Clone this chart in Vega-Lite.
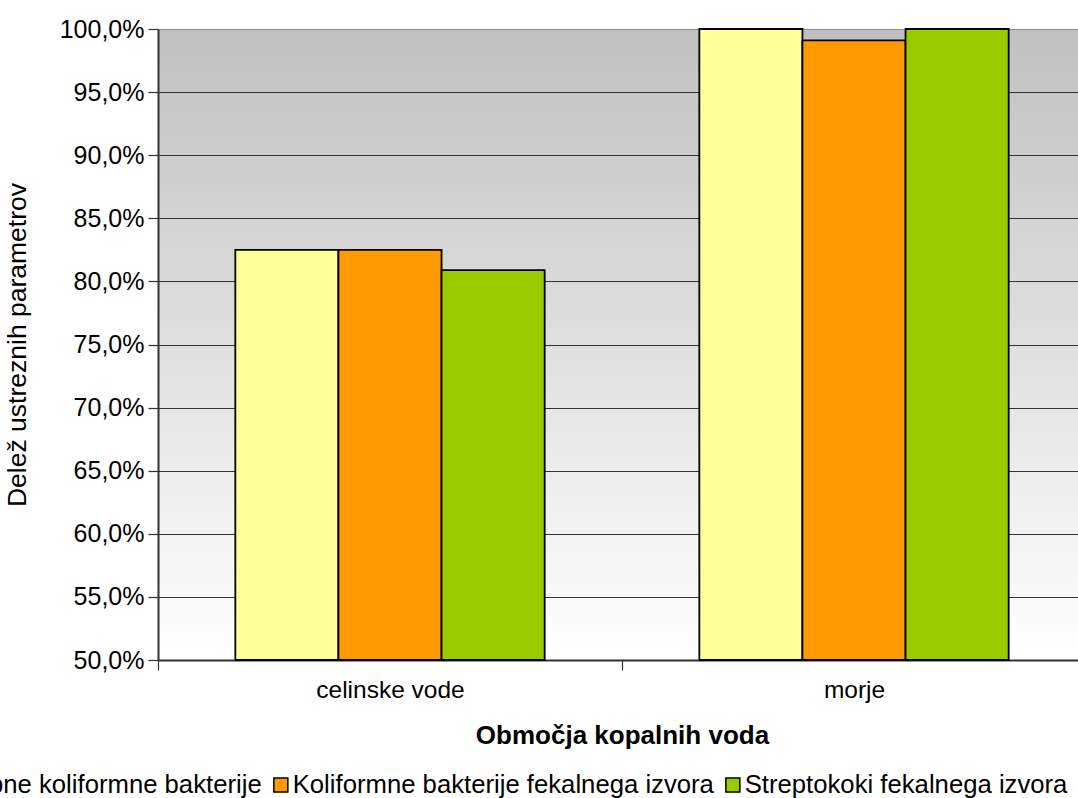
{
  "$schema": "https://vega.github.io/schema/vega-lite/v6.json",
  "width": 920,
  "height": 631,
  "autosize": {"type": "none"},
  "padding": {"left": 158, "top": 29, "right": 0, "bottom": 138},
  "background": "#ffffff",
  "data": {
    "values": [
      {"obmocje": "celinske vode", "parameter": "Skupne koliformne bakterije", "delez": 82.5},
      {"obmocje": "celinske vode", "parameter": "Koliformne bakterije fekalnega izvora", "delez": 82.5},
      {"obmocje": "celinske vode", "parameter": "Streptokoki fekalnega izvora", "delez": 80.9},
      {"obmocje": "morje", "parameter": "Skupne koliformne bakterije", "delez": 100.0},
      {"obmocje": "morje", "parameter": "Koliformne bakterije fekalnega izvora", "delez": 99.1},
      {"obmocje": "morje", "parameter": "Streptokoki fekalnega izvora", "delez": 100.0}
    ]
  },
  "mark": {"type": "bar", "stroke": "#000000", "strokeWidth": 1.8},
  "encoding": {
    "x": {
      "field": "obmocje",
      "type": "nominal",
      "sort": ["celinske vode", "morje"],
      "scale": {"range": [0, 928], "paddingInner": 0, "paddingOuter": 0},
      "axis": {
        "title": "Območja kopalnih voda",
        "labelAngle": 0,
        "tickBand": "extent",
        "grid": false,
        "labelPadding": 8,
        "titlePadding": 21,
        "titleFontSize": 26,
        "titleFontWeight": "bold"
      }
    },
    "xOffset": {
      "field": "parameter",
      "type": "nominal",
      "sort": ["Skupne koliformne bakterije", "Koliformne bakterije fekalnega izvora", "Streptokoki fekalnega izvora"],
      "scale": {"paddingInner": 0, "paddingOuter": 0.75}
    },
    "y": {
      "field": "delez",
      "type": "quantitative",
      "scale": {"domain": [50, 100], "zero": false, "nice": false},
      "axis": {
        "title": "Delež ustreznih parametrov",
        "titleFontSize": 26.5,
        "values": [50, 55, 60, 65, 70, 75, 80, 85, 90, 95, 100],
        "labelExpr": "replace(format(datum.value / 100, '.1%'), '.', ',')",
        "labelFontSize": 25,
        "labelPadding": 4,
        "titlePadding": 28,
        "titleFontWeight": "normal",
        "grid": true,
        "gridColor": {"condition": {"test": "datum.value >= 100", "value": "#8c8c8c"}, "value": "#333333"},
        "gridWidth": 1.2
      }
    },
    "y2": {"datum": 50},
    "color": {
      "field": "parameter",
      "type": "nominal",
      "scale": {
        "domain": ["Skupne koliformne bakterije", "Koliformne bakterije fekalnega izvora", "Streptokoki fekalnega izvora"],
        "range": ["#ffff99", "#ff9900", "#99cc00"]
      },
      "legend": {
        "title": null,
        "orient": "none",
        "direction": "horizontal",
        "legendX": -238,
        "legendY": 743,
        "padding": 0,
        "labelFontSize": 25.7,
        "labelFont": "Liberation Sans",
        "labelColor": "#000000",
        "labelLimit": 1000,
        "labelOffset": -1,
        "columnPadding": 6,
        "symbolType": "square",
        "symbolSize": 196,
        "symbolStrokeColor": "#000000",
        "symbolStrokeWidth": 1.5,
        "symbolOpacity": 1
      }
    }
  },
  "config": {
    "font": "Liberation Sans",
    "view": {
      "stroke": null,
      "fill": {
        "gradient": "linear",
        "x1": 0, "y1": 0, "x2": 0, "y2": 1,
        "stops": [
          {"offset": 0, "color": "#c0c0c0"},
          {"offset": 1, "color": "#ffffff"}
        ]
      }
    },
    "axis": {
      "labelFont": "Liberation Sans",
      "labelFontSize": 24.5,
      "labelColor": "#000000",
      "titleFont": "Liberation Sans",
      "titleFontSize": 25,
      "titleColor": "#000000",
      "domainColor": "#333333",
      "domainWidth": 2,
      "tickColor": "#333333",
      "tickSize": 10,
      "tickWidth": 1.2
    }
  }
}
